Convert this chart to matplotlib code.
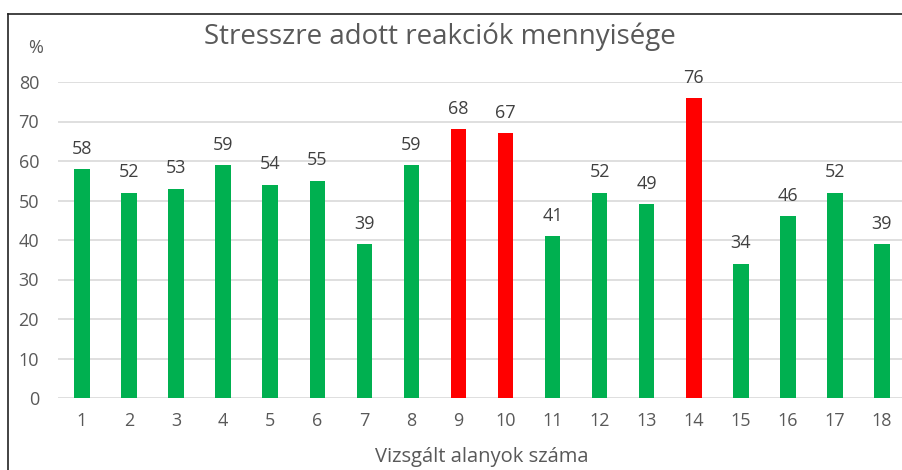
import numpy as np
import matplotlib.pyplot as plt
from matplotlib.lines import Line2D

subjects = [str(i) for i in range(1, 19)]
values = [58, 52, 53, 59, 54, 55, 39, 59, 68, 67, 41, 52, 49, 76, 34, 46, 52, 39]
highlight = ['9', '10', '14']

green = '#00B050'
red = '#FF0000'
txt = '#595959'

plt.rcParams['font.family'] = ['Open Sans', 'DejaVu Sans']

fig = plt.figure(figsize=(9.03, 4.70), dpi=100)
ax = fig.add_axes([58.5 / 903, 72 / 470, 847 / 903, 316 / 470])

x = np.arange(len(subjects))
colors = [red if s in highlight else green for s in subjects]
ax.bar(x, values, width=0.33, color=colors, zorder=3)

for xi, v in zip(x, values):
    ax.annotate(str(v), (xi, v), xytext=(0, 11), textcoords='offset points',
                ha='center', va='baseline', fontsize=13, color='#404040')

ax.set_xlim(-0.5, len(subjects) - 0.5)
ax.set_ylim(0, 80)
ax.set_yticks(range(0, 81, 10))
ax.set_xticks(x)
ax.set_xticklabels(subjects)
ax.tick_params(length=0, labelsize=13, colors=txt)
ax.tick_params(axis='x', pad=10)
ax.tick_params(axis='y', pad=14)
ax.grid(axis='y', color='#D9D9D9', linewidth=1.2, zorder=0)
for sp in ax.spines.values():
    sp.set_visible(False)

fig.text(440 / 903, 1 - 37 / 470, 'Stresszre adott reakciók mennyisége',
         ha='center', va='center', fontsize=20, color=txt)
fig.text(36 / 903, 1 - 48 / 470, '%', ha='center', va='center', fontsize=13, color=txt)
fig.text(482 / 903, 1 - 457 / 470, 'Vizsgált alanyok száma',
         ha='center', va='center', fontsize=14.5, color=txt)

fig.add_artist(Line2D([8 / 903, 8 / 903], [0, 1 - 14 / 470], color='#222222', lw=1.2))
fig.add_artist(Line2D([8 / 903, 1], [1 - 14 / 470, 1 - 14 / 470], color='#222222', lw=1.2))

fig.savefig('out.png', dpi=100)
